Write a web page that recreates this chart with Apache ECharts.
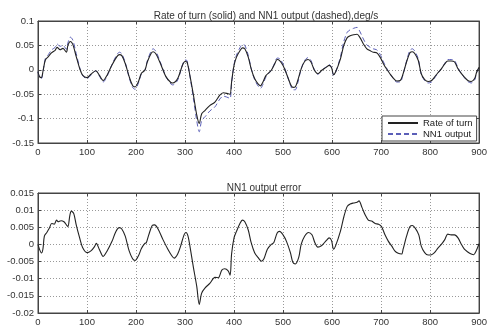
<!DOCTYPE html>
<html>
<head>
<meta charset="utf-8">
<script src="https://cdn.jsdelivr.net/npm/echarts@6/dist/echarts.min.js"></script>
<style>
html, body { margin: 0; padding: 0; background: #fff; }
#chart { width: 490px; height: 327px; }
</style>
</head>
<body>
<div id="chart"></div>
<script>
// [sample, deg/s]
var rateOfTurn = [
  [0,-0.004],[3,-0.014],[7,-0.016],[10,-0.004],[15,0.02],[21,0.027],[28,0.035],[35,0.04],[39,0.046],[45,0.041],
  [51,0.044],[58,0.036],[61,0.05],[66,0.058],[71,0.052],[78,0.027],[85,0.003],[91,-0.011],[100,-0.016],[108,-0.009],
  [118,-0.002],[125,-0.011],[133,-0.022],[141,-0.011],[151,0.01],[161,0.027],[166,0.031],[171,0.029],[178,0.013],[186,-0.014],
  [193,-0.032],[198,-0.035],[205,-0.024],[211,-0.007],[218,-0.001],[223,0.016],[231,0.034],[235,0.037],[241,0.032],[251,0.01],
  [261,-0.014],[271,-0.026],[275,-0.027],[285,-0.018],[295,0.01],[300,0.017],[304,0.016],[310,-0.012],[317,-0.051],[324,-0.093],
  [329,-0.11],[334,-0.09],[341,-0.083],[351,-0.073],[361,-0.066],[371,-0.052],[378,-0.047],[388,-0.049],[392,-0.05],[395,-0.025],
  [400,0.009],[405,0.026],[412,0.039],[417,0.045],[422,0.043],[429,0.026],[435,0.002],[442,-0.018],[449,-0.029],[454,-0.033],
  [459,-0.025],[465,-0.012],[476,-0.001],[483,0.012],[488,0.021],[493,0.019],[500,0.009],[507,-0.008],[515,-0.029],[520,-0.036],
  [525,-0.035],[530,-0.022],[537,0.002],[544,0.017],[551,0.021],[557,0.016],[564,-0.001],[571,-0.008],[579,-0.001],[588,0.005],
  [594,0.009],[599,0.004],[603,-0.01],[607,-0.005],[617,0.022],[624,0.05],[631,0.066],[637,0.07],[644,0.072],[651,0.073],
  [657,0.066],[664,0.053],[671,0.043],[678,0.039],[684,0.036],[691,0.035],[698,0.026],[705,0.012],[711,0.002],[718,-0.008],
  [725,-0.017],[732,-0.023],[739,-0.022],[745,-0.008],[752,0.016],[759,0.035],[764,0.037],[769,0.033],[776,0.019],[782,-0.008],
  [789,-0.02],[796,-0.024],[803,-0.022],[809,-0.015],[816,-0.006],[823,0.002],[830,0.012],[836,0.018],[843,0.018],[850,0.016],
  [857,0.002],[864,-0.008],[870,-0.015],[877,-0.022],[884,-0.024],[891,-0.018],[895,-0.005],[900,0.005]
];

var nn1Output = [
  [0,-0.004],[3,-0.015],[7,-0.018],[10,-0.005],[15,0.023],[21,0.031],[28,0.041],[35,0.046],[39,0.053],[45,0.048],
  [51,0.05],[58,0.042],[61,0.055],[66,0.067],[71,0.061],[78,0.033],[85,0.005],[91,-0.012],[100,-0.018],[108,-0.011],
  [118,-0.002],[125,-0.012],[133,-0.025],[141,-0.013],[151,0.011],[161,0.031],[166,0.036],[171,0.033],[178,0.015],[186,-0.016],
  [193,-0.036],[198,-0.04],[205,-0.027],[211,-0.008],[218,-0.001],[223,0.018],[231,0.039],[235,0.043],[241,0.037],[251,0.012],
  [261,-0.014],[271,-0.029],[275,-0.031],[285,-0.021],[295,0.011],[300,0.02],[304,0.019],[310,-0.013],[317,-0.058],[324,-0.105],
  [329,-0.127],[334,-0.104],[341,-0.096],[351,-0.084],[361,-0.076],[371,-0.06],[378,-0.054],[388,-0.057],[392,-0.059],[395,-0.028],
  [400,0.011],[405,0.03],[412,0.045],[417,0.052],[422,0.05],[429,0.03],[435,0.003],[442,-0.02],[449,-0.033],[454,-0.038],
  [459,-0.03],[465,-0.015],[476,-0.001],[483,0.014],[488,0.024],[493,0.023],[500,0.012],[507,-0.007],[515,-0.031],[520,-0.041],
  [525,-0.041],[530,-0.027],[537,0.002],[544,0.019],[551,0.025],[557,0.019],[564,0],[571,-0.009],[579,-0.001],[588,0.006],
  [594,0.011],[599,0.005],[603,-0.011],[607,-0.006],[617,0.026],[624,0.058],[631,0.077],[637,0.082],[644,0.085],[651,0.087],
  [657,0.078],[664,0.063],[671,0.051],[678,0.046],[684,0.043],[691,0.041],[698,0.032],[705,0.016],[711,0.004],[718,-0.008],
  [725,-0.018],[732,-0.025],[739,-0.025],[745,-0.009],[752,0.018],[759,0.04],[764,0.043],[769,0.038],[776,0.022],[782,-0.009],
  [789,-0.022],[796,-0.027],[803,-0.025],[809,-0.017],[816,-0.007],[823,0.002],[830,0.013],[836,0.021],[843,0.021],[850,0.019],
  [857,0.004],[864,-0.008],[870,-0.016],[877,-0.024],[884,-0.027],[891,-0.021],[895,-0.006],[900,0.005]
];

var outputError = [
  [0,0],[3,-0.0014],[7,-0.0025],[10,-0.0014],[13,0.0024],[18,0.0035],[23,0.0047],[28,0.0061],[33,0.0059],[38,0.0071],
  [41,0.0066],[47,0.0069],[53,0.0066],[58,0.0057],[61,0.0052],[65,0.0085],[68,0.0097],[73,0.009],[78,0.0057],[85,0.0019],
  [91,-0.0009],[100,-0.0024],[108,-0.0019],[115,-0.0007],[119,0.0003],[125,-0.0014],[133,-0.0035],[141,-0.0019],[151,0.0009],[159,0.0038],
  [166,0.0049],[171,0.0045],[178,0.0024],[186,-0.0019],[193,-0.0042],[198,-0.0047],[205,-0.0033],[211,-0.0012],[218,0.0003],[221,0.0005],
  [226,0.0028],[233,0.0055],[238,0.0057],[245,0.0045],[255,0.0014],[265,-0.0014],[273,-0.0033],[278,-0.004],[285,-0.0028],[291,-0.0005],
  [298,0.0028],[302,0.0035],[306,0.0025],[310,-0.0005],[317,-0.0066],[324,-0.0123],[329,-0.0175],[334,-0.0142],[341,-0.0127],[351,-0.0113],
  [361,-0.0096],[368,-0.0097],[375,-0.0075],[381,-0.0071],[388,-0.0077],[392,-0.009],[395,-0.0028],[400,0.0019],[405,0.0038],[412,0.0061],
  [417,0.0071],[422,0.0066],[429,0.0042],[435,0.0005],[442,-0.0024],[449,-0.0038],[456,-0.0049],[461,-0.0042],[468,-0.0014],[476,0],
  [481,0.0005],[488,0.0033],[493,0.0038],[500,0.0028],[507,0.0009],[515,-0.0024],[520,-0.0052],[525,-0.0057],[532,-0.0038],[537,0],
  [544,0.0024],[552,0.0035],[559,0.0028],[565,0.0005],[571,-0.0008],[579,-0.0003],[588,0.0011],[594,0.0019],[599,0.0011],[603,-0.0014],
  [607,-0.0005],[617,0.0038],[624,0.008],[631,0.0111],[637,0.0118],[644,0.0121],[651,0.0123],[655,0.0127],[661,0.0108],[668,0.0085],
  [674,0.0071],[681,0.0068],[688,0.0061],[695,0.0059],[701,0.0052],[708,0.0028],[715,0.0009],[722,-0.0005],[728,-0.0019],[735,-0.0026],
  [742,-0.0028],[745,-0.0014],[752,0.0024],[759,0.0052],[764,0.0055],[770,0.0047],[777,0.0028],[782,-0.0005],[789,-0.0024],[796,-0.0031],
  [803,-0.003],[809,-0.0024],[816,-0.0011],[823,0],[830,0.0014],[836,0.003],[843,0.0028],[850,0.0028],[857,0.0019],[864,0],
  [870,-0.0014],[877,-0.0022],[884,-0.0028],[889,-0.003],[894,-0.0019],[900,0.0002]
];

var xRange = [0, 900, 100];          // min, max, step
var topRange = [-0.15, 0.1, 0.05];
var errRange = [-0.02, 0.015, 0.005];

var myChart = echarts.init(document.getElementById('chart'));
var font = 'Liberation Sans';

function xAxis (gi, pos) {
  return {
    type: 'value', gridIndex: gi, position: pos,
    min: xRange[0], max: xRange[1], interval: xRange[2],
    axisLine: { show: true, onZero: false, lineStyle: { color: '#444', width: 1 } },
    axisTick: { show: true, inside: true, length: 3, lineStyle: { color: '#444' } },
    axisLabel: { show: pos === 'bottom', color: '#333', fontSize: 9.5, fontFamily: font, margin: 4 },
    splitLine: { show: pos === 'bottom', lineStyle: { color: '#999', type: [1, 2] } }
  };
}
function yAxis (gi, pos, r) {
  return {
    type: 'value', gridIndex: gi, position: pos,
    min: r[0], max: r[1], interval: r[2],
    axisLine: { show: true, onZero: false, lineStyle: { color: '#444', width: 1 } },
    axisTick: { show: true, inside: true, length: 3, lineStyle: { color: '#444' } },
    axisLabel: { show: pos === 'left', color: '#333', fontSize: 9.5, fontFamily: font, margin: 4 },
    splitLine: { show: pos === 'left', lineStyle: { color: '#999', type: [1, 2] } }
  };
}

var option = {
  backgroundColor: '#fff',
  animation: false,
  title: [
    { text: 'Rate of turn (solid) and NN1 output (dashed),deg/s', left: 261, top: 6, textAlign: 'center',
      textStyle: { fontSize: 10, fontWeight: 'normal', color: '#333', fontFamily: font } },
    { text: 'NN1 output error', left: 259, top: 178, textAlign: 'center',
      textStyle: { fontSize: 10, fontWeight: 'normal', color: '#333', fontFamily: font } }
  ],
  legend: {
    orient: 'vertical', left: 382, top: 116, itemWidth: 30, itemHeight: 8, itemGap: 1,
    padding: [2, 4, 2, 5],
    backgroundColor: '#fff', borderColor: '#444', borderWidth: 1,
    itemStyle: { opacity: 0 },
    textStyle: { fontSize: 9.5, color: '#222', fontFamily: font },
    data: ['Rate of turn', 'NN1 output']
  },
  grid: [
    { left: 38, right: 6, top: 21, height: 122, show: true, borderColor: '#444', borderWidth: 1, backgroundColor: '#fff' },
    { left: 38, right: 6, top: 193, height: 123, show: true, borderColor: '#444', borderWidth: 1, backgroundColor: '#fff' }
  ],
  xAxis: [xAxis(0, 'bottom'), xAxis(0, 'top'), xAxis(1, 'bottom'), xAxis(1, 'top')],
  yAxis: [yAxis(0, 'left', topRange), yAxis(0, 'right', topRange), yAxis(1, 'left', errRange), yAxis(1, 'right', errRange)],
  series: [
    {
      name: 'NN1 output', type: 'line', xAxisIndex: 0, yAxisIndex: 0, data: nn1Output,
      symbol: 'none', smooth: 0.3, z: 2,
      lineStyle: { color: '#5b5fb8', width: 1, type: [5, 3] }, itemStyle: { color: '#5b5fb8' }
    },
    {
      name: 'Rate of turn', type: 'line', xAxisIndex: 0, yAxisIndex: 0, data: rateOfTurn,
      symbol: 'none', smooth: 0.3, z: 3,
      lineStyle: { color: '#222', width: 1.1 }, itemStyle: { color: '#222' }
    },
    {
      name: 'error', type: 'line', xAxisIndex: 2, yAxisIndex: 2, data: outputError,
      symbol: 'none', smooth: 0.3,
      lineStyle: { color: '#222', width: 1.1 }
    }
  ]
};

myChart.setOption(option);
window.addEventListener('resize', function () {
  myChart.resize();
});
</script>
</body>
</html>
